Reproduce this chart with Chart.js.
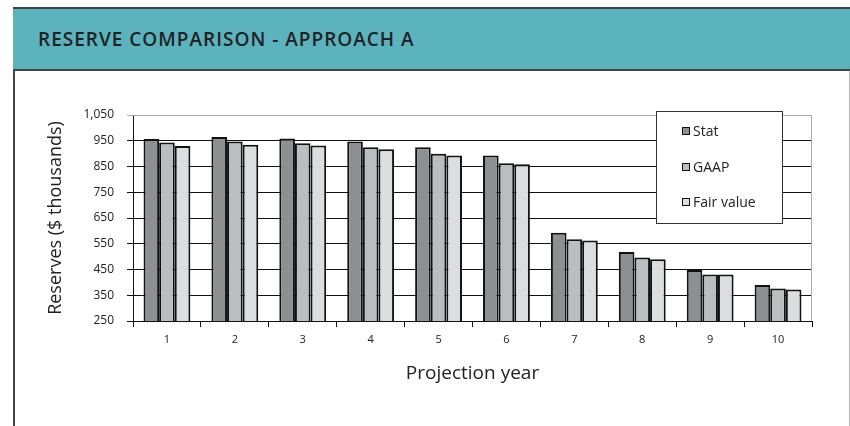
<!DOCTYPE html>
<html>
<head>
<meta charset="utf-8">
<script src="https://cdn.jsdelivr.net/npm/chart.js@4/dist/chart.umd.min.js"></script>
<style>
  html, body { margin: 0; padding: 0; background: #fff; }
  body { width: 850px; height: 426px; position: relative; overflow: hidden; font-family: "Open Sans", sans-serif; }
  .frame { position: absolute; left: 13px; top: 7px; width: 834px; height: 430px; border-left: 2px solid #444; border-right: 1px solid #bbb; }
  .band { position: absolute; left: 13px; top: 7px; width: 837px; height: 60px; background: #5bb3be; border-top: 2px solid #444; border-bottom: 2px solid #444; }
  .band span { position: absolute; left: 25px; top: 17px; font-size: 19px; font-weight: 600; color: #222; letter-spacing: 1px; }
  canvas { position: absolute; left: 0; top: 0; }
</style>
</head>
<body>
<div class="frame"></div>
<div class="band"><span>RESERVE COMPARISON - APPROACH A</span></div>
<canvas id="chart" width="850" height="426"></canvas>
<script>
// data
const years = ["1", "2", "3", "4", "5", "6", "7", "8", "9", "10"];
const stat = [957, 965, 959, 947, 925, 893, 593, 518, 448, 390];
const gaap = [943, 947, 940, 925, 900, 863, 567, 497, 431, 376];
const fairValue = [930, 934, 932, 917, 893, 859, 563, 490, 431, 372];
const seriesNames = ["Stat", "GAAP", "Fair value"];
const seriesColors = ["#8e8f93", "#bcbdc1", "#dcdde0"];

// legend box drawn inside the plot + grey top/right frame
const boxLegend = {
  id: "boxLegend",
  afterDraw(chart) {
    const { ctx, chartArea } = chart;
    ctx.save();
    ctx.strokeStyle = "#aaa";
    ctx.lineWidth = 1;
    ctx.beginPath();
    ctx.moveTo(chartArea.left, chartArea.top + 0.5);
    ctx.lineTo(chartArea.right - 0.5, chartArea.top + 0.5);
    ctx.lineTo(chartArea.right - 0.5, chartArea.bottom);
    ctx.stroke();

    const x = 656, y = 111, w = 126, h = 112;
    ctx.fillStyle = "#fff";
    ctx.fillRect(x, y, w, h);
    ctx.strokeStyle = "#333";
    ctx.strokeRect(x + 0.5, y + 0.5, w, h);
    ctx.font = "14px 'Open Sans'";
    ctx.textBaseline = "middle";
    const rows = [131, 167, 202];
    chart.data.datasets.forEach((ds, i) => {
      ctx.fillStyle = ds.backgroundColor;
      ctx.fillRect(682, rows[i] - 4, 8, 8);
      ctx.strokeStyle = "#111";
      ctx.strokeRect(682.5, rows[i] - 3.5, 7, 7);
      ctx.fillStyle = "#222";
      ctx.fillText(ds.label, 693, rows[i] + 1);
    });
    ctx.restore();
  },
};

const ctx_chart = document.getElementById("chart").getContext("2d");
const chart = new Chart(ctx_chart, {
  type: "bar",
  data: {
    labels: years,
    datasets: [stat, gaap, fairValue].map((d, i) => ({
      label: seriesNames[i],
      data: d,
      backgroundColor: seriesColors[i],
      borderColor: "#111",
      borderWidth: 2,
      borderSkipped: "bottom",
      barPercentage: 1.0,
      categoryPercentage: 0.69,
    })),
  },
  options: {
    responsive: false,
    animation: false,
    layout: { padding: { left: 40, right: 38, top: 115, bottom: 40 } },
    plugins: {
      legend: false, // custom legend box
      tooltip: { enabled: false },
    },
    scales: {
      x: {
        afterFit: (s) => { s.height = 65; },
        grid: { offset: true, drawOnChartArea: false, drawTicks: true, tickLength: 6, color: "#111" },
        border: { color: "#111", width: 1 },
        ticks: { color: "#222", font: { family: "Open Sans", size: 11 }, padding: 6 },
        title: { display: true, text: "Projection year", color: "#222", font: { family: "Open Sans", size: 19 }, padding: { top: 0, bottom: 1 } },
      },
      y: {
        min: 250,
        max: 1050,
        afterFit: (s) => { s.width = 93; },
        grid: {
          color: (c) => (c.tick && c.tick.value === 1050 ? "#aaa" : "#111"),
          tickLength: 6,
        },
        border: { color: "#111", width: 1 },
        ticks: { stepSize: 100, color: "#222", font: { family: "Open Sans", size: 12 }, padding: 13 },
        title: { display: true, text: "Reserves ($ thousands)", color: "#222", font: { family: "Open Sans", size: 18 }, padding: { top: 5, bottom: 0 } },
      },
    },
  },
  plugins: [boxLegend],
});
</script>
</body>
</html>
